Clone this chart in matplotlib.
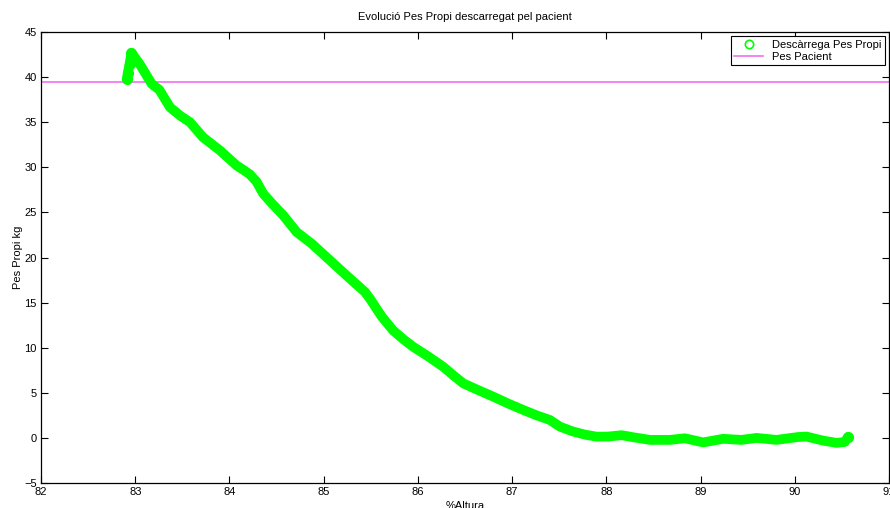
import matplotlib

matplotlib.use('Agg')
import matplotlib.pyplot as plt
from matplotlib.lines import Line2D

plt.rcParams['font.family'] = ['Liberation Sans', 'DejaVu Sans']

# %Altura vs Pes Propi (kg)
altura = [82.91, 82.92, 82.94, 82.96, 83.05, 83.175, 83.255, 83.369, 83.48, 83.581,
          83.719, 83.90, 84.076, 84.15, 84.218, 84.288, 84.33, 84.359, 84.45, 84.571,
          84.713, 84.872, 85.066, 85.17, 85.278, 85.438, 85.50, 85.562, 85.62, 85.738,
          85.85, 85.95, 86.10, 86.268, 86.38, 86.481, 86.64, 86.80, 86.96, 87.117,
          87.26, 87.40, 87.507, 87.648, 87.78, 87.896, 88.02, 88.161, 88.30, 88.462,
          88.674, 88.833, 89.027, 89.24, 89.434, 89.594, 89.806, 90.035, 90.124, 90.30,
          90.442, 90.53, 90.566]
pes = [39.8, 40.4, 41.5, 42.7, 41.4, 39.24, 38.6, 36.65, 35.7, 35.0,
       33.33, 31.86, 30.2, 29.7, 29.2, 28.4, 27.6, 27.07, 26.0, 24.67,
       22.82, 21.54, 19.69, 18.7, 17.67, 16.18, 15.3, 14.3, 13.4, 11.9,
       10.9, 10.1, 9.1, 7.89, 6.9, 6.05, 5.3, 4.57, 3.8, 3.1,
       2.5, 1.99, 1.25, 0.70, 0.35, 0.14, 0.15, 0.3, 0.05, -0.22,
       -0.22, -0.04, -0.5, -0.1, -0.22, 0.0, -0.22, 0.1, 0.15, -0.3,
       -0.55, -0.45, 0.1]
pes_pacient = 39.45

xticks = list(range(82, 92))
yticks = list(range(-5, 46, 5))

fig = plt.figure(figsize=(8.9, 5.08), dpi=100)
ax = fig.add_axes([0.0461, 0.0492, 0.9528, 0.8878])

ax.plot(altura, pes, color='#00ff00', lw=7.0, solid_capstyle='round',
        solid_joinstyle='round', zorder=3)
ax.plot(altura[:4] + altura[-1:], pes[:4] + pes[-1:], 'o', color='#00ff00',
        ms=7, zorder=3)
ax.axhline(pes_pacient, color='#f070f0', lw=1.2, zorder=2)

ax.set_xlim(82, 91)
ax.set_ylim(-5, 45)
ax.set_xticks(xticks)
ax.set_yticks(yticks)
ax.set_xticklabels([str(t) for t in xticks])
ax.set_yticklabels(['\u22125'] + [str(t) for t in yticks[1:]])
ax.tick_params(direction='in', top=True, right=True, length=5, width=0.8,
               labelsize=8, pad=3)
for sp in ax.spines.values():
    sp.set_linewidth(0.9)

ax.set_title('Evolució Pes Propi descarregat pel pacient', fontsize=8, pad=9)
ax.set_ylabel('Pes Propi kg', fontsize=8, labelpad=1)
ax.set_xlabel('%Altura', fontsize=8, labelpad=3)

handles = [Line2D([], [], marker='o', ls='none', mec='#00ff00', mfc='none', ms=6, mew=1.2),
           Line2D([], [], color='#f070f0', lw=1.2)]
leg = ax.legend(handles, ['Descàrrega Pes Propi', 'Pes Pacient'], loc='upper right',
                fontsize=8, fancybox=False, framealpha=1, edgecolor='black',
                borderaxespad=0.4, handlelength=2.6, borderpad=0.3, labelspacing=0.2)
leg.get_frame().set_linewidth(0.8)

fig.savefig('out.png', dpi=100)
